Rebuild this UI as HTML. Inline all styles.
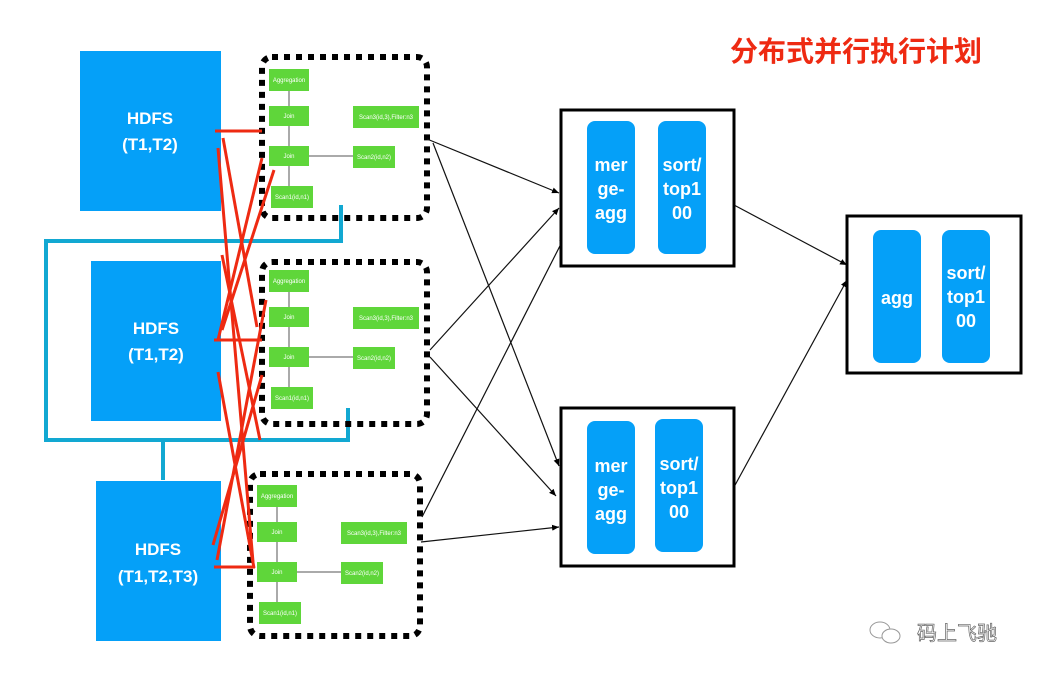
<!DOCTYPE html>
<html><head><meta charset="utf-8"><style>
html,body{margin:0;padding:0;background:#fff;}
svg{display:block;}
text{font-family:"Liberation Sans","Noto Sans CJK SC",sans-serif;}
</style></head><body>
<svg width="1054" height="680" viewBox="0 0 1054 680" xmlns="http://www.w3.org/2000/svg">
<defs>
<marker id="ar" markerWidth="8" markerHeight="8" refX="7" refY="4" orient="auto" markerUnits="userSpaceOnUse">
<path d="M0,1 L7,4 L0,7 z" fill="#000"/></marker>
</defs>
<rect width="1054" height="680" fill="#fff"/>
<g fill="#05a0f8">
<rect x="80" y="51" width="141" height="160"/>
<rect x="91" y="261" width="130" height="160"/>
<rect x="96" y="481" width="125" height="160"/>
</g>
<g fill="#fff" font-size="17" font-weight="bold" text-anchor="middle">
<text x="150" y="124">HDFS</text><text x="150" y="150">(T1,T2)</text>
<text x="156" y="334">HDFS</text><text x="156" y="360">(T1,T2)</text>
<text x="158" y="555">HDFS</text><text x="158" y="582">(T1,T2,T3)</text>
</g>
<g stroke="#12a8d2" stroke-width="4" fill="none">
<path d="M341,205 V241 H46 V440 H348 V408"/>
<path d="M163,440 V480"/>
</g>
<g stroke="#000" stroke-width="6" stroke-dasharray="6,6" fill="none">
<rect x="262" y="57" width="165" height="161" rx="10"/>
<rect x="262" y="262" width="165" height="162" rx="10"/>
<rect x="250" y="474" width="170" height="162" rx="10"/>
</g>
<g id="t1">
<g stroke="#555" stroke-width="1">
<line x1="289" y1="91" x2="289" y2="186"/>
<line x1="309" y1="156" x2="353" y2="156"/>
</g>
<g fill="#5fd63a">
<rect x="269" y="69" width="40" height="22"/>
<rect x="269" y="106" width="40" height="20"/>
<rect x="269" y="146" width="40" height="20"/>
<rect x="271" y="186" width="42" height="22"/>
<rect x="353" y="106" width="66" height="22"/>
<rect x="353" y="146" width="42" height="22"/>
</g>
<g fill="#fff" font-size="6" text-anchor="middle">
<text x="289" y="82">Aggregation</text>
<text x="289" y="118">Join</text>
<text x="289" y="158">Join</text>
<text x="292" y="199">Scan1(id,n1)</text>
<text x="386" y="119">Scan3(id,3),Filter:n3</text>
<text x="374" y="159">Scan2(id,n2)</text>
</g>
</g>
<use href="#t1" transform="translate(0,201)"/>
<use href="#t1" transform="translate(-12,416)"/>
<g stroke="#ee2a12" stroke-width="3" fill="none">
<line x1="215" y1="131" x2="262" y2="131"/>
<line x1="214" y1="340" x2="262" y2="340"/>
<line x1="214" y1="567" x2="255" y2="567"/>
<line x1="223" y1="138" x2="257" y2="327"/>
<line x1="218" y1="148" x2="253" y2="562"/>
<line x1="262" y1="158" x2="218" y2="340"/>
<line x1="274" y1="170" x2="222" y2="330"/>
<line x1="218" y1="372" x2="254" y2="568"/>
<line x1="262" y1="375" x2="213" y2="545"/>
<line x1="266" y1="300" x2="217" y2="560"/>
<line x1="222" y1="255" x2="260" y2="440"/>
</g>
<g stroke="#111" stroke-width="1.2" marker-end="url(#ar)">
<line x1="427" y1="139" x2="559" y2="193"/>
<line x1="433" y1="143" x2="559" y2="466"/>
<line x1="430" y1="350" x2="559" y2="208"/>
<line x1="430" y1="357" x2="556" y2="496"/>
<line x1="422" y1="517" x2="565" y2="236"/>
<line x1="421" y1="542" x2="559" y2="527"/>
<line x1="734" y1="205" x2="847" y2="265"/>
<line x1="734" y1="487" x2="847" y2="280"/>
</g>
<g stroke="#000" stroke-width="3" fill="#fff">
<rect x="561" y="110" width="173" height="156"/>
<rect x="561" y="408" width="173" height="158"/>
<rect x="847" y="216" width="174" height="157"/>
</g>
<g fill="#05a0f8">
<rect x="587" y="121" width="48" height="133" rx="8"/>
<rect x="658" y="121" width="48" height="133" rx="8"/>
<rect x="587" y="421" width="48" height="133" rx="8"/>
<rect x="655" y="419" width="48" height="133" rx="8"/>
<rect x="873" y="230" width="48" height="133" rx="8"/>
<rect x="942" y="230" width="48" height="133" rx="8"/>
</g>
<g fill="#fff" font-size="18" font-weight="bold" text-anchor="middle">
<text x="611" y="171">mer</text><text x="611" y="195">ge-</text><text x="611" y="219">agg</text>
<text x="682" y="171">sort/</text><text x="682" y="195">top1</text><text x="682" y="219">00</text>
<text x="611" y="472">mer</text><text x="611" y="496">ge-</text><text x="611" y="520">agg</text>
<text x="679" y="470">sort/</text><text x="679" y="494">top1</text><text x="679" y="518">00</text>
<text x="897" y="304">agg</text>
<text x="966" y="279">sort/</text><text x="966" y="303">top1</text><text x="966" y="327">00</text>
</g>
<text x="730" y="61" font-size="28" font-weight="bold" fill="#ee2a12">分布式并行执行计划</text>
<g stroke="#999" fill="#fff" stroke-width="1">
<ellipse cx="880" cy="630" rx="10" ry="8"/>
<ellipse cx="891" cy="636" rx="9" ry="7"/>
</g>
<text x="917" y="640" font-size="20" fill="#fff" stroke="#666" stroke-width="0.7">码上飞驰</text>
</svg>
</body></html>
